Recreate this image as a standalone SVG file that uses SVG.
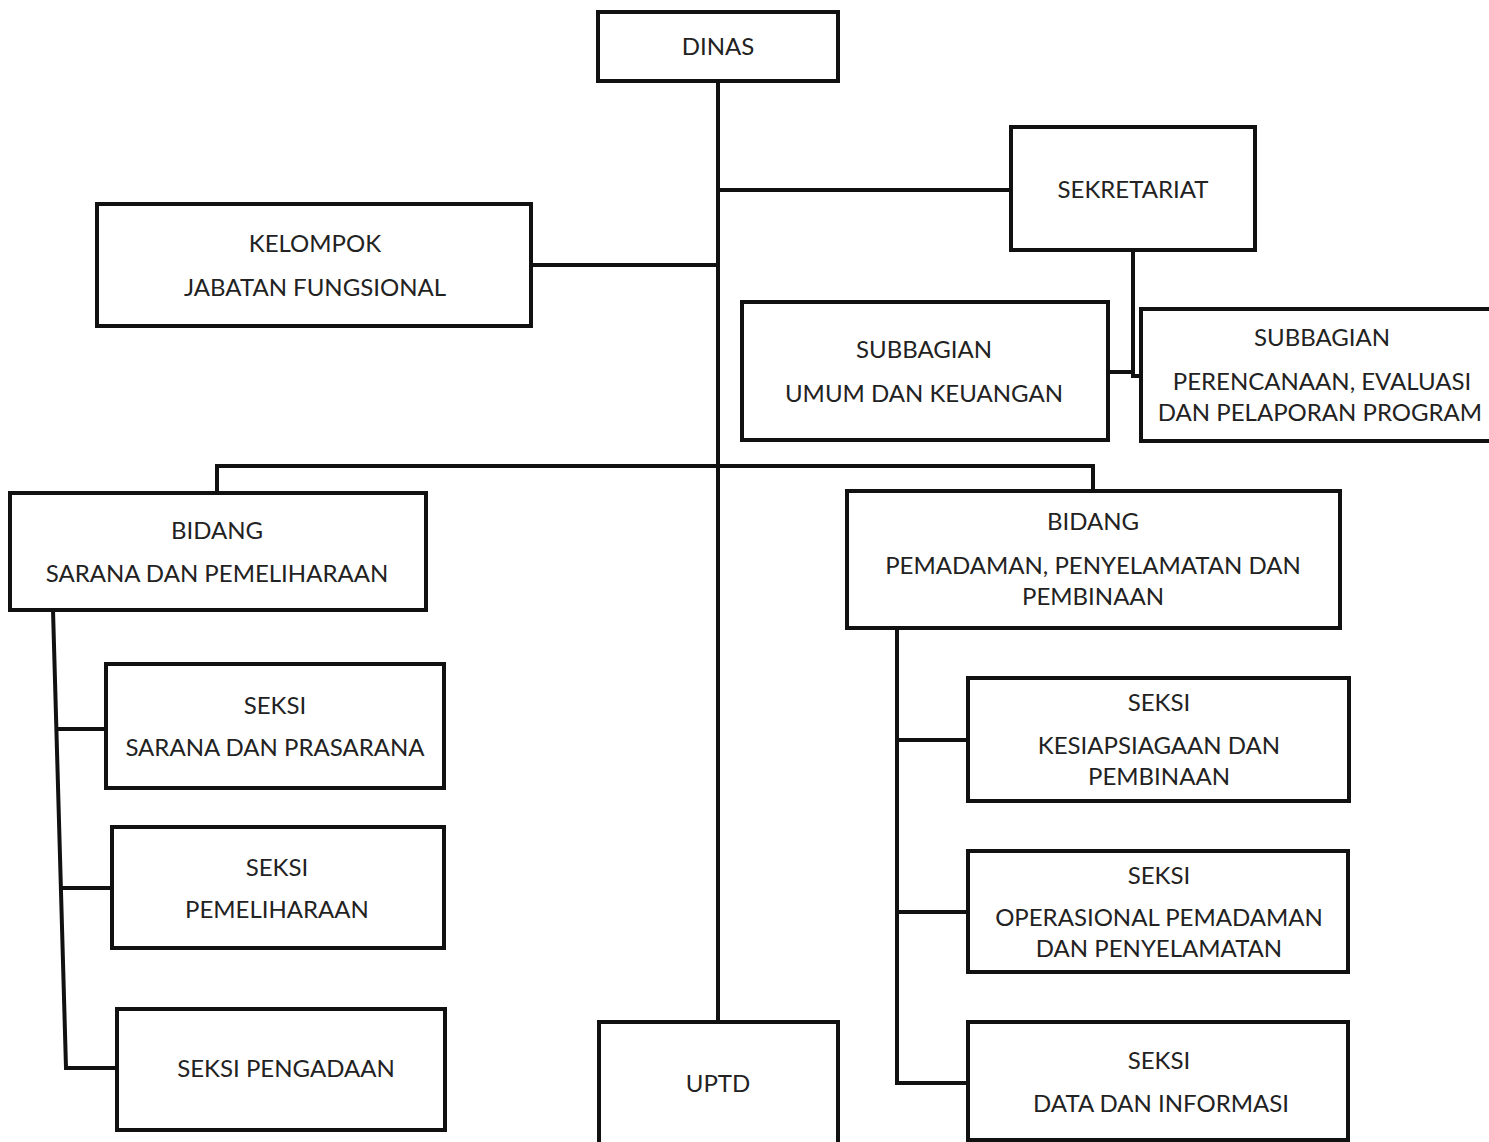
<svg xmlns="http://www.w3.org/2000/svg" width="1489" height="1142" viewBox="0 0 1489 1142">
<style>
.box{fill:#fff;stroke:#111;stroke-width:4}
.ln{fill:none;stroke:#111;stroke-width:4;stroke-linejoin:miter}
text{font-family:Lato,"Liberation Sans",sans-serif;font-size:24px;fill:#222;text-anchor:middle}
</style>
<rect width="1489" height="1142" fill="#fff"/>
<g id="connectors">
<path class="ln" d="M718 81V1022"/>
<path class="ln" d="M718 190H1011"/>
<path class="ln" d="M531 265H718"/>
<path class="ln" d="M1133 250V372H1108M1133 372V376H1141"/>
<path class="ln" d="M217 493V466H1093V491"/>
<path class="ln" d="M53 610L66 1068H117"/>
<path class="ln" d="M56 729H106M60 888H112"/>
<path class="ln" d="M897 628V1083H968M897 740H968M897 912H968"/>
</g>
<g id="dinas"><rect class="box" x="598" y="12" width="240" height="69"/><text x="718" y="55">DINAS</text></g>
<g id="sekretariat"><rect class="box" x="1011" y="127" width="244" height="123"/><text x="1133" y="198">SEKRETARIAT</text></g>
<g id="kelompok"><rect class="box" x="97" y="204" width="434" height="122"/><text x="315" y="252">KELOMPOK</text><text x="315" y="296">JABATAN FUNGSIONAL</text></g>
<g id="subbagian-umum"><rect class="box" x="742" y="302" width="366" height="138"/><text x="924" y="358">SUBBAGIAN</text><text x="924" y="402">UMUM DAN KEUANGAN</text></g>
<g id="subbagian-perencanaan"><rect class="box" x="1141" y="309" width="360" height="132"/><text x="1322" y="346">SUBBAGIAN</text><text x="1322" y="390">PERENCANAAN, EVALUASI</text><text x="1320" y="421">DAN PELAPORAN PROGRAM</text></g>
<g id="bidang-sarana"><rect class="box" x="10" y="493" width="416" height="117"/><text x="217" y="539">BIDANG</text><text x="217" y="582">SARANA DAN PEMELIHARAAN</text></g>
<g id="bidang-pemadaman"><rect class="box" x="847" y="491" width="493" height="137"/><text x="1093" y="530">BIDANG</text><text x="1093" y="574">PEMADAMAN, PENYELAMATAN DAN</text><text x="1093" y="605">PEMBINAAN</text></g>
<g id="seksi-sarana"><rect class="box" x="106" y="664" width="338" height="124"/><text x="275" y="714">SEKSI</text><text x="275" y="756">SARANA DAN PRASARANA</text></g>
<g id="seksi-pemeliharaan"><rect class="box" x="112" y="827" width="332" height="121"/><text x="277" y="876">SEKSI</text><text x="277" y="918">PEMELIHARAAN</text></g>
<g id="seksi-pengadaan"><rect class="box" x="117" y="1009" width="328" height="121"/><text x="286" y="1077">SEKSI PENGADAAN</text></g>
<g id="seksi-kesiapsiagaan"><rect class="box" x="968" y="678" width="381" height="123"/><text x="1159" y="711">SEKSI</text><text x="1159" y="754">KESIAPSIAGAAN DAN</text><text x="1159" y="785">PEMBINAAN</text></g>
<g id="seksi-operasional"><rect class="box" x="968" y="851" width="380" height="121"/><text x="1159" y="884">SEKSI</text><text x="1159" y="926">OPERASIONAL PEMADAMAN</text><text x="1159" y="957">DAN PENYELAMATAN</text></g>
<g id="seksi-data"><rect class="box" x="968" y="1022" width="380" height="118"/><text x="1159" y="1069">SEKSI</text><text x="1161" y="1112">DATA DAN INFORMASI</text></g>
<g id="uptd"><rect class="box" x="599" y="1022" width="239" height="130"/><text x="718" y="1092">UPTD</text></g>
</svg>
